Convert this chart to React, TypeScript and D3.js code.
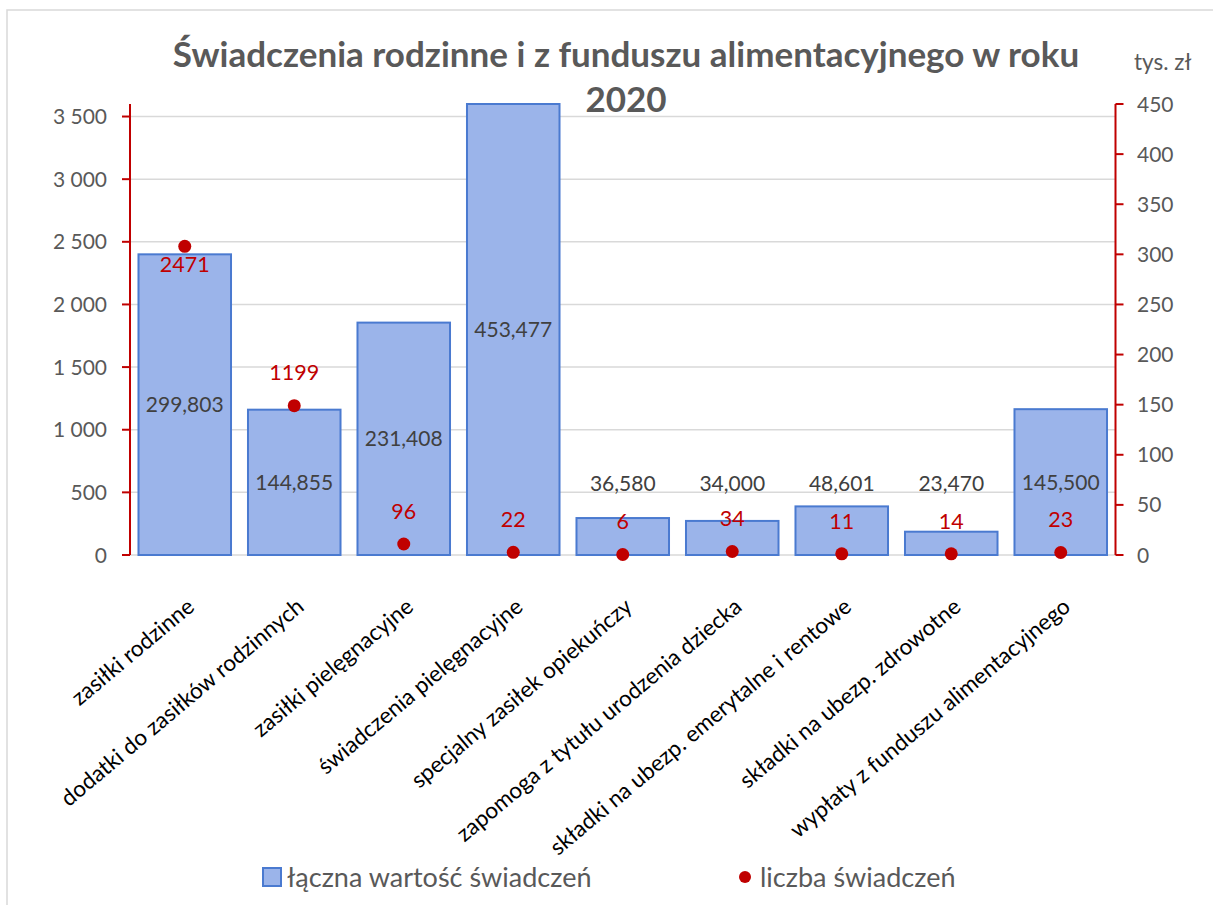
import React from "react";
import * as d3 from "d3";

const categories = [
  "zasiłki rodzinne",
  "dodatki do zasiłków rodzinnych",
  "zasiłki pielęgnacyjne",
  "świadczenia pielęgnacyjne",
  "specjalny zasiłek opiekuńczy",
  "zapomoga z tytułu urodzenia dziecka",
  "składki na ubezp. emerytalne i rentowe",
  "składki na ubezp. zdrowotne",
  "wypłaty z funduszu alimentacyjnego",
];
const barValues = [2400, 1160, 1855, 3630, 295, 272, 388, 186, 1164];
const barLabels = ["299,803", "144,855", "231,408", "453,477", "36,580", "34,000", "48,601", "23,470", "145,500"];
const dotValues = [308, 149, 11, 2.7, 0.5, 3.5, 1.2, 1.2, 2.5];
const dotLabels = ["2471", "1199", "96", "22", "6", "34", "11", "14", "23"];
const leftTicks = [0, 500, 1000, 1500, 2000, 2500, 3000, 3500];
const rightTicks = [0, 50, 100, 150, 200, 250, 300, 350, 400, 450];
const leftMax = 3600;
const rightMax = 450;
const titleLines = ["Świadczenia rodzinne i z funduszu alimentacyjnego w roku", "2020"];
const unitLabel = "tys. zł";
const legendBar = "łączna wartość świadczeń";
const legendDot = "liczba świadczeń";

const W = 1213;
const H = 905;
const FONT = "Lato, 'Open Sans', sans-serif";
const RED = "#c00000";
const GRAY = "#595959";
const BAR_FILL = "#9bb4ea";
const BAR_STROKE = "#4a7ad0";

const plotLeft = 130;
const plotRight = 1115.5;
const plotTop = 104;
const plotBottom = 555;

const locale = d3.formatLocale({ decimal: ",", thousands: "\u00a0", grouping: [3], currency: ["", " zł"] });
const fmt = locale.format(",d");

export default function App() {
  const x = d3
    .scaleBand<string>()
    .domain(categories)
    .range([plotLeft, plotRight])
    .paddingInner(0.155)
    .paddingOuter(0.0775);
  const yL = d3.scaleLinear().domain([0, leftMax]).range([plotBottom, plotTop]).clamp(true);
  const yR = d3.scaleLinear().domain([0, rightMax]).range([plotBottom, plotTop]).clamp(true);
  const bw = x.bandwidth();

  return (
    <svg
      width={W}
      height={H}
      style={{ position: "absolute", left: 0, top: 0, background: "#fff" }}
      fontFamily={FONT}
    >
      <rect x={7} y={10} width={W + 20} height={H + 20} fill="#fff" stroke="#d9d9d9" strokeWidth={1.5} />

      {/* title */}
      {titleLines.map((t, i) => (
        <text
          key={i}
          x={626}
          y={67 + i * 45}
          textAnchor="middle"
          fontSize={35}
          fontWeight="bold"
          fill={GRAY}
        >
          {t}
        </text>
      ))}
      <text x={1134} y={70} fontSize={22.5} fill={GRAY}>
        {unitLabel}
      </text>

      {/* gridlines */}
      {leftTicks.map((t) => (
        <line key={t} x1={plotLeft} x2={plotRight} y1={yL(t)} y2={yL(t)} stroke="#d9d9d9" strokeWidth={1.5} />
      ))}

      {/* bars */}
      {categories.map((c, i) => (
        <rect
          key={c}
          x={x(c)}
          y={yL(barValues[i])}
          width={bw}
          height={yL(0) - yL(barValues[i])}
          fill={BAR_FILL}
          stroke={BAR_STROKE}
          strokeWidth={2}
        />
      ))}

      {/* left axis */}
      <line x1={plotLeft} x2={plotLeft} y1={plotTop} y2={plotBottom} stroke={RED} strokeWidth={2} />
      {leftTicks.map((t) => (
        <g key={t}>
          <line x1={plotLeft - 8} x2={plotLeft} y1={yL(t)} y2={yL(t)} stroke={RED} strokeWidth={2} />
          <text x={107} y={yL(t)} dy="0.36em" textAnchor="end" fontSize={21} fill={GRAY}>
            {fmt(t)}
          </text>
        </g>
      ))}

      {/* right axis */}
      <line x1={plotRight} x2={plotRight} y1={plotTop} y2={plotBottom} stroke={RED} strokeWidth={2} />
      {rightTicks.map((t) => (
        <g key={t}>
          <line x1={plotRight} x2={plotRight + 8} y1={yR(t)} y2={yR(t)} stroke={RED} strokeWidth={2} />
          <text x={1137} y={yR(t)} dy="0.36em" textAnchor="start" fontSize={21} fill={GRAY}>
            {fmt(t)}
          </text>
        </g>
      ))}

      {/* bar labels */}
      {categories.map((c, i) => {
        const top = yL(barValues[i]);
        const h = plotBottom - top;
        const ly = h > 80 ? (top + plotBottom) / 2 : plotBottom - 72;
        return (
          <text
            key={c}
            x={(x(c) as number) + bw / 2}
            y={ly}
            dy="0.36em"
            textAnchor="middle"
            fontSize={21}
            fill="#404040"
          >
            {barLabels[i]}
          </text>
        );
      })}

      {/* dots */}
      {categories.map((c, i) => (
        <circle key={c} cx={(x(c) as number) + bw / 2} cy={yR(dotValues[i])} r={6.5} fill={RED} />
      ))}
      {categories.map((c, i) => {
        const cy = yR(dotValues[i]);
        const ly = i === 0 ? cy + 18 : cy - 33;
        return (
          <text
            key={c}
            x={(x(c) as number) + bw / 2}
            y={ly}
            dy="0.36em"
            textAnchor="middle"
            fontSize={21.5}
            fill={RED}
          >
            {dotLabels[i]}
          </text>
        );
      })}

      {/* x labels */}
      {categories.map((c) => (
        <text
          key={c}
          transform={`translate(${(x(c) as number) + bw / 2 + 11},${plotBottom + 54}) rotate(-40)`}
          textAnchor="end"
          fontSize={22.5}
          fill="#000"
        >
          {c}
        </text>
      ))}

      {/* legend */}
      <rect x={263} y={868} width={18} height={18} fill={BAR_FILL} stroke={BAR_STROKE} strokeWidth={2} />
      <text x={287} y={887} fontSize={27} fill={GRAY}>
        {legendBar}
      </text>
      <circle cx={745} cy={877} r={6} fill={RED} />
      <text x={760} y={887} fontSize={27} fill={GRAY}>
        {legendDot}
      </text>
    </svg>
  );
}
